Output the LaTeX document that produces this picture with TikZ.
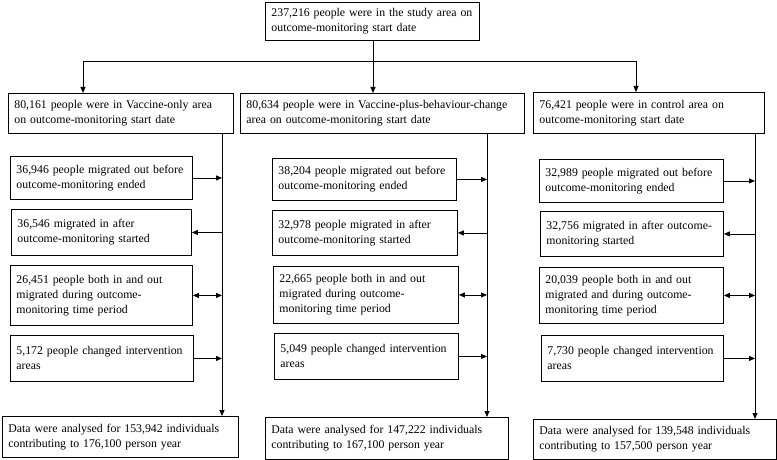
\documentclass[tikz,border=0pt]{standalone}
\usepackage{fontspec}
\setmainfont{Liberation Serif}
\usetikzlibrary{arrows.meta}
\begin{document}
\begin{tikzpicture}[x=1pt,y=-1pt,
  box/.style={draw, line width=0.9pt, anchor=north west, inner xsep=6pt, inner ysep=0pt,
              align=left, font=\fontsize{11.8}{15}\selectfont},
  ln/.style={line width=0.8pt},
  arr/.style={ln, -{Triangle[length=6pt,width=5pt]}},
  darr/.style={ln, {Triangle[length=6pt,width=5pt]}-{Triangle[length=6pt,width=5pt]}}]
\useasboundingbox (0,0) rectangle (777,460);
% top and second row
\node[box, minimum width=214pt, minimum height=38pt, text width=202pt] (top) at (265,2)
  {237,216 people were in the study area on\\outcome-monitoring start date};
\node[box, minimum width=225pt, minimum height=40pt, text width=213pt] (a1) at (8,93)
  {80,161 people were in Vaccine-only area\\on outcome-monitoring start date};
\node[box, minimum width=284pt, minimum height=40pt, text width=272pt] (a2) at (240,93)
  {80,634 people were in Vaccine-plus-behaviour-change\\area on outcome-monitoring start date};
\node[box, minimum width=231pt, minimum height=41pt, text width=219pt] (a3) at (533,92)
  {76,421 people were in control area on\\outcome-monitoring start date};
% column 1
\node[box, minimum width=182pt, minimum height=43pt, text width=170pt] (m11) at (10,156)
  {36,946 people migrated out before\\outcome-monitoring ended};
\node[box, minimum width=180pt, minimum height=46pt, text width=168pt] (m12) at (11,209)
  {36,546 migrated in after\\outcome-monitoring started};
\node[box, minimum width=182pt, minimum height=60pt, text width=170pt] (m13) at (10,265)
  {26,451 people both in and out\\migrated during outcome-\\monitoring time period};
\node[box, minimum width=183pt, minimum height=46pt, text width=171pt] (m14) at (10,335)
  {5,172 people changed intervention\\areas};
\node[box, minimum width=236pt, minimum height=41pt, text width=224pt] (d1) at (2,416)
  {Data were analysed for 153,942 individuals\\contributing to 176,100 person year};
% column 2
\node[box, minimum width=184pt, minimum height=42pt, text width=172pt] (m21) at (272,158)
  {38,204 people migrated out before\\outcome-monitoring ended};
\node[box, minimum width=185pt, minimum height=45pt, text width=173pt] (m22) at (272,210)
  {32,978 people migrated in after\\outcome-monitoring started};
\node[box, minimum width=185pt, minimum height=57pt, text width=173pt] (m23) at (273,266)
  {22,665 people both in and out\\migrated during outcome-\\monitoring time period};
\node[box, minimum width=184pt, minimum height=46pt, text width=172pt] (m24) at (274,333)
  {5,049 people changed intervention\\areas};
\node[box, minimum width=243pt, minimum height=42pt, text width=231pt] (d2) at (265,417)
  {Data were analysed for 147,222 individuals\\contributing to 167,100 person year};
% column 3
\node[box, minimum width=184pt, minimum height=43pt, text width=172pt] (m31) at (539,159)
  {32,989 people migrated out before\\outcome-monitoring ended};
\node[box, minimum width=183pt, minimum height=45pt, text width=171pt] (m32) at (540,211)
  {32,756 migrated in after outcome-\\monitoring started};
\node[box, minimum width=184pt, minimum height=56pt, text width=172pt] (m33) at (539,267)
  {20,039 people both in and out\\migrated and during outcome-\\monitoring time period};
\node[box, minimum width=182pt, minimum height=46pt, text width=170pt] (m34) at (541,335)
  {7,730 people changed intervention\\areas};
\node[box, minimum width=243pt, minimum height=40pt, text width=231pt] (d3) at (533,419)
  {Data were analysed for 139,548 individuals\\contributing to 157,500 person year};
% connectors from top
\coordinate (hl) at (83,61);
\coordinate (hr) at (636,61);
\coordinate (hc) at (373,61);
\draw[ln] (hc |- top.south) -- (hc);
\draw[ln] (hl) -- (hr);
\draw[arr] (hl) -- (hl |- a1.north);
\draw[arr] (hc) -- (hc |- a2.north);
\draw[arr] (hr) -- (hr |- a3.north);
% column spines
\coordinate (c1) at (222,0);
\coordinate (c2) at (487,0);
\coordinate (c3) at (755,0);
\draw[arr] (a1.south -| c1) -- (d1.north -| c1);
\draw[arr] (a2.south -| c2) -- (d2.north -| c2);
\draw[arr] (a3.south -| c3) -- (d3.north -| c3);
% column 1 side arrows
\draw[arr] (m11.east) -- (m11.east -| c1);
\draw[arr] (m12.east -| c1) -- (m12.east);
\draw[darr] (m13.east) -- (m13.east -| c1);
\draw[arr] (m14.east) -- (m14.east -| c1);
% column 2 side arrows
\draw[arr] (m21.east) -- (m21.east -| c2);
\draw[arr] (m22.east -| c2) -- (m22.east);
\draw[darr] (m23.east) -- (m23.east -| c2);
\draw[arr] (m24.east) -- (m24.east -| c2);
% column 3 side arrows
\draw[arr] (m31.east) -- (m31.east -| c3);
\draw[arr] (m32.east -| c3) -- (m32.east);
\draw[darr] (m33.east) -- (m33.east -| c3);
\draw[arr] (m34.east) -- (m34.east -| c3);
\end{tikzpicture}
\end{document}
